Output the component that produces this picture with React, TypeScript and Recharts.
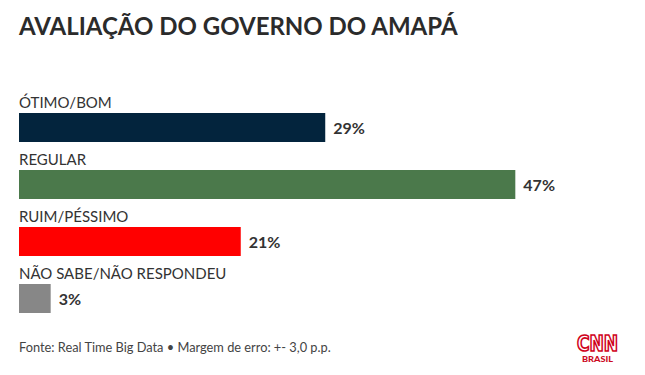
import React from 'react';
import { BarChart, Bar, XAxis, YAxis, Cell, LabelList } from 'recharts';

const categories = ['ÓTIMO/BOM', 'REGULAR', 'RUIM/PÉSSIMO', 'NÃO SABE/NÃO RESPONDEU'];
const values = [29, 47, 21, 3];
const colors = ['#03243d', '#4b794b', '#ff0000', '#878787'];

const data = categories.map((name, i) => ({ name, value: values[i] }));

const FONT = 'Lato, "Noto Sans", sans-serif';

const CategoryLabel = (props: any) => {
  const { x, y, value } = props;
  return (
    <text x={x} y={y - 5} fill="#333" fontSize={15} fontFamily={FONT}>
      {value}
    </text>
  );
};

const ValueLabel = (props: any) => {
  const { x, y, width, height, value } = props;
  return (
    <text
      x={x + width + 8}
      y={y + height / 2}
      dominantBaseline="central"
      fill="#333"
      fontSize={16}
      fontWeight={700}
      fontFamily={FONT}
    >
      {value}%
    </text>
  );
};

export default function App() {
  return (
    <div style={{ position: 'absolute', left: 0, top: 0, width: 645, height: 375, background: '#fff', fontFamily: FONT }}>
      <div
        style={{
          position: 'absolute',
          left: 19,
          top: 11,
          fontSize: 24,
          fontWeight: 700,
          color: '#2b2b2b',
          whiteSpace: 'nowrap',
          lineHeight: '30px',
        }}
      >
        AVALIAÇÃO DO GOVERNO DO AMAPÁ
      </div>
      <div style={{ position: 'absolute', left: 0, top: 0 }}>
        <BarChart
          width={645}
          height={375}
          data={data}
          layout="vertical"
          margin={{ top: 99, bottom: 48, left: 19, right: 98 }}
          barSize={29}
        >
          <XAxis type="number" domain={[0, 50]} hide />
          <YAxis type="category" dataKey="name" hide />
          <Bar dataKey="value" isAnimationActive={false}>
            {data.map((d, i) => (
              <Cell key={d.name} fill={colors[i]} />
            ))}
            <LabelList dataKey="name" content={CategoryLabel} />
            <LabelList dataKey="value" content={ValueLabel} />
          </Bar>
        </BarChart>
      </div>
      <div
        style={{
          position: 'absolute',
          left: 19,
          top: 339,
          fontSize: 12.8,
          color: '#444',
          whiteSpace: 'nowrap',
          lineHeight: '16px',
        }}
      >
        Fonte: Real Time Big Data • Margem de erro: +- 3,0 p.p.
      </div>
      <svg style={{ position: 'absolute', left: 565, top: 322 }} width={66} height={48}>
        <text
          x={12}
          y={28.5}
          textLength={41}
          lengthAdjust="spacingAndGlyphs"
          fontFamily='"DejaVu Sans Condensed", "Liberation Sans Narrow", sans-serif'
          fontWeight={700}
          fontSize={22}
          fill="#fff"
          stroke="#d0021b"
          strokeWidth={1.7}
        >
          CNN
        </text>
        <text
          x={17}
          y={39.5}
          textLength={31}
          lengthAdjust="spacingAndGlyphs"
          fontFamily={FONT}
          fontWeight={900}
          fontSize={7.5}
          fill="#cc0a1e"
        >
          BRASIL
        </text>
      </svg>
    </div>
  );
}
